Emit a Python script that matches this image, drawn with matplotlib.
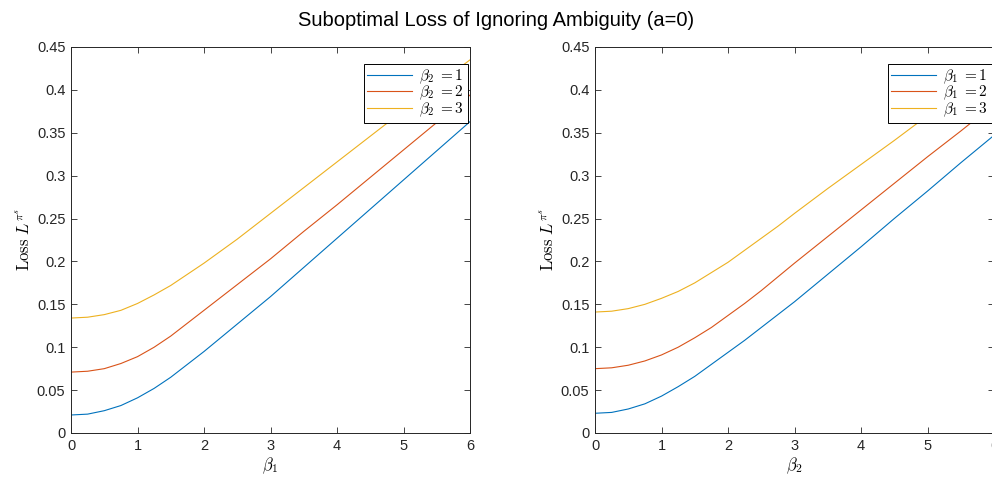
import numpy as np
import matplotlib
matplotlib.use("Agg")
import matplotlib.pyplot as plt
from matplotlib.ticker import FormatStrFormatter

plt.rcParams["font.family"] = ["Liberation Sans", "DejaVu Sans"]
plt.rcParams["mathtext.fontset"] = "cm"

beta = [0, 0.25, 0.5, 0.75, 1, 1.25, 1.5, 1.75, 2, 2.25, 2.5, 2.75, 3,
        3.5, 4, 4.5, 5, 5.5, 6]

# left panel: loss vs beta1, one curve per beta2
left_b2_1 = [0.021, 0.022, 0.026, 0.032, 0.041, 0.052, 0.065, 0.080, 0.095,
             0.111, 0.127, 0.143, 0.159, 0.193, 0.227, 0.261, 0.295, 0.329, 0.363]
left_b2_2 = [0.071, 0.072, 0.075, 0.081, 0.089, 0.100, 0.113, 0.128, 0.143,
             0.158, 0.173, 0.188, 0.203, 0.235, 0.266, 0.298, 0.330, 0.362, 0.394]
left_b2_3 = [0.134, 0.135, 0.138, 0.143, 0.151, 0.161, 0.172, 0.185, 0.198,
             0.212, 0.226, 0.241, 0.256, 0.286, 0.316, 0.346, 0.376, 0.406, 0.435]

# right panel: loss vs beta2, one curve per beta1
right_b1_1 = [0.023, 0.024, 0.028, 0.034, 0.043, 0.054, 0.066, 0.080, 0.094,
              0.108, 0.123, 0.138, 0.153, 0.185, 0.217, 0.250, 0.282, 0.315, 0.347]
right_b1_2 = [0.075, 0.076, 0.079, 0.084, 0.091, 0.100, 0.111, 0.123, 0.137,
              0.151, 0.166, 0.182, 0.198, 0.229, 0.260, 0.291, 0.322, 0.352, 0.383]
right_b1_3 = [0.141, 0.142, 0.145, 0.150, 0.157, 0.165, 0.175, 0.187, 0.199,
              0.213, 0.227, 0.241, 0.256, 0.285, 0.313, 0.341, 0.370, 0.398, 0.427]

levels = [1, 2, 3]
colors = ["#0072BD", "#D95319", "#EDB120"]
axcol = "#262626"


def draw_panel(ax, series, xlab, leglab):
    for s, lev, c in zip(series, levels, colors):
        ax.plot(beta, s, color=c, lw=0.8,
                label=rf"$\{leglab}\;{{=}}{lev}$")
    ax.set_xlim(0, 6)
    ax.set_ylim(0, 0.45)
    ax.set_xticks(range(0, 7))
    ax.set_yticks(np.arange(0, 0.451, 0.05))
    ax.yaxis.set_major_formatter(FormatStrFormatter("%g"))
    ax.tick_params(direction="in", top=True, right=True, length=4,
                   width=0.6, color=axcol, labelsize=10.5, labelcolor=axcol,
                   pad=4)
    for sp in ax.spines.values():
        sp.set_color(axcol)
        sp.set_linewidth(0.7)
    ax.set_xlabel(xlab, fontsize=12, labelpad=2)
    ax.set_ylabel(r"$\mathrm{Loss}\ L^{\pi^s}$", fontsize=12, labelpad=3)
    leg = ax.legend(loc="upper right", bbox_to_anchor=(0.995, 0.957),
                    fontsize=11, fancybox=False, framealpha=1,
                    edgecolor="black", handlelength=2.9, borderpad=0.25,
                    labelspacing=-0.12, handletextpad=0.5, borderaxespad=0)
    leg.get_frame().set_linewidth(0.7)


fig = plt.figure(figsize=(9.92, 4.8), dpi=100)
ax1 = fig.add_axes([71 / 992, 47 / 480, 399 / 992, 386 / 480])
ax2 = fig.add_axes([595 / 992, 47 / 480, 399 / 992, 386 / 480])

draw_panel(ax1, [left_b2_1, left_b2_2, left_b2_3], r"$\beta_1$", "beta_2")
draw_panel(ax2, [right_b1_1, right_b1_2, right_b1_3], r"$\beta_2$", "beta_1")

fig.suptitle("Suboptimal Loss of Ignoring Ambiguity (a=0)", fontsize=14.5,
             y=0.978, va="top")

fig.savefig("out.png", dpi=100)
